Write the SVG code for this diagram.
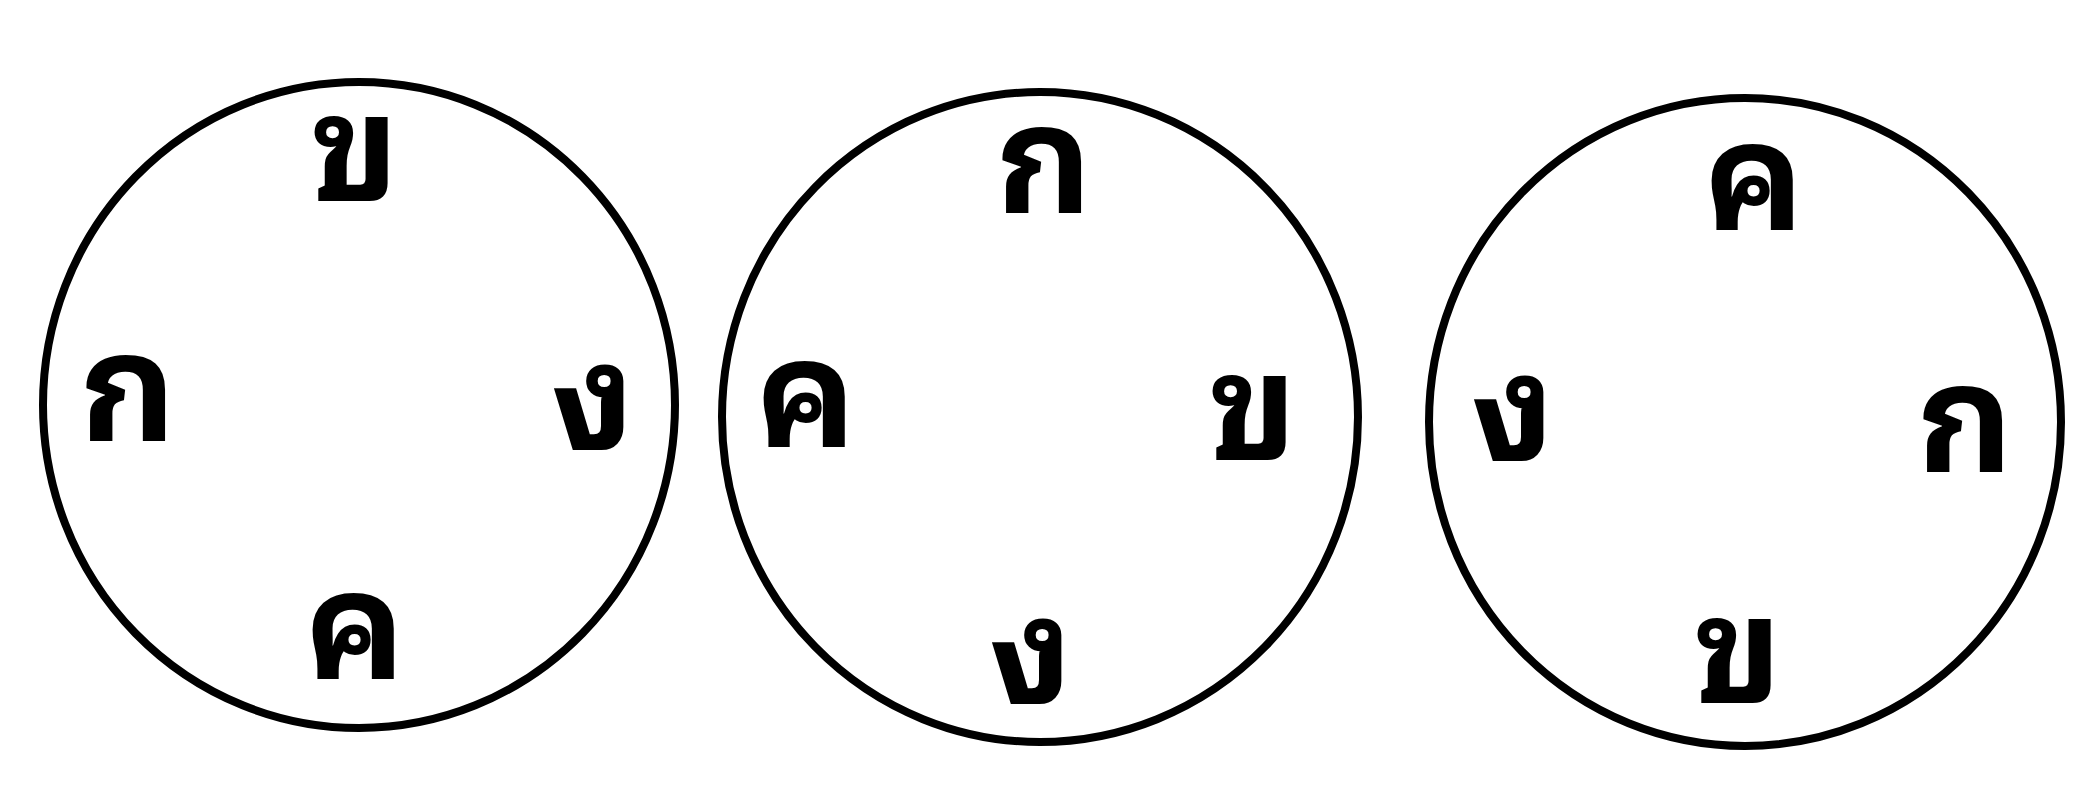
<svg xmlns="http://www.w3.org/2000/svg" width="2089" height="806" viewBox="0 0 2089 806">
<style>
.ring{fill:none;stroke:#000;stroke-width:8}
.t{font-family:"Noto Sans Thai Looped","Noto Serif Thai","Garuda","Loma","Norasi","Waree","Noto Sans Thai","Noto Sans",sans-serif;font-size:150px;font-weight:bold;fill:#000;text-anchor:middle}
</style>
<rect width="2089" height="806" fill="#fff"/>
<g id="circle1">
<ellipse class="ring" cx="359" cy="405" rx="316" ry="323"/>
<text class="t" x="355" y="201">ข</text>
<text class="t" x="128" y="441">ก</text>
<text class="t" x="593" y="450">ง</text>
<text class="t" x="355" y="679">ค</text>
</g>
<g id="circle2">
<ellipse class="ring" cx="1040" cy="417" rx="318" ry="325"/>
<text class="t" x="1044" y="213">ก</text>
<text class="t" x="806" y="447">ค</text>
<text class="t" x="1253" y="460">ข</text>
<text class="t" x="1031" y="704">ง</text>
</g>
<g id="circle3">
<ellipse class="ring" cx="1745" cy="422" rx="316" ry="324"/>
<text class="t" x="1754" y="230">ค</text>
<text class="t" x="1513" y="461">ง</text>
<text class="t" x="1965" y="472">ก</text>
<text class="t" x="1738" y="703">ข</text>
</g>
<g id="connectors"/>
</svg>
